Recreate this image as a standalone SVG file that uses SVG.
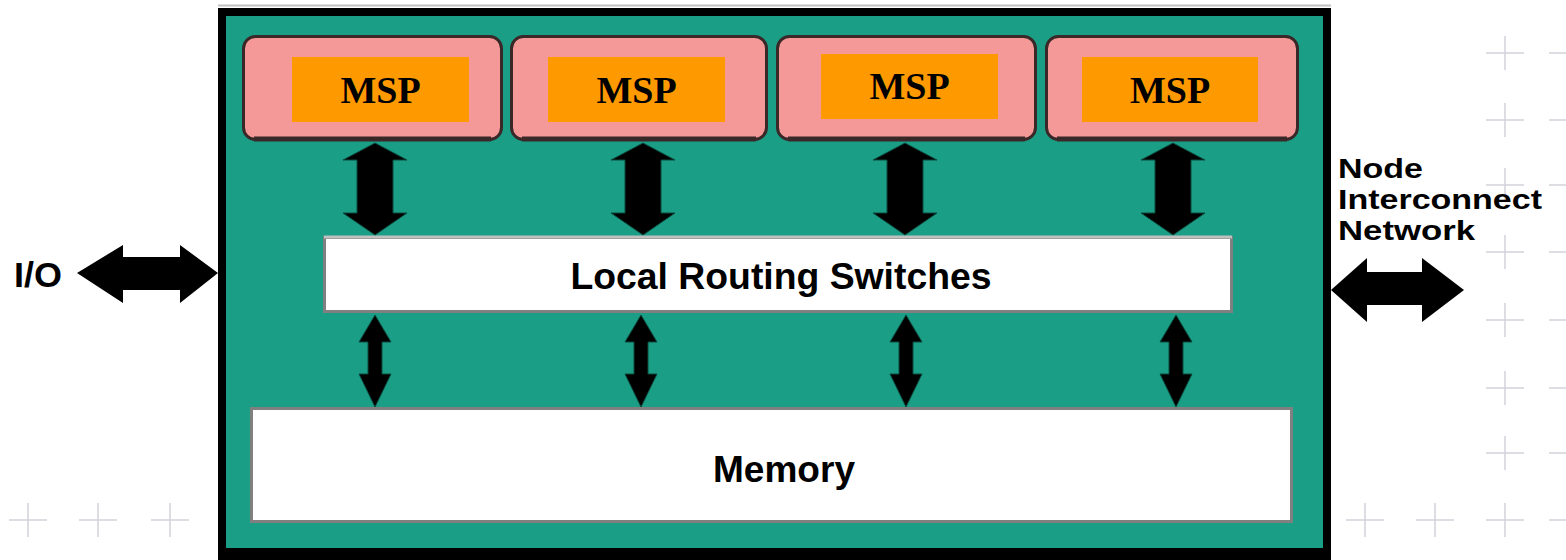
<svg xmlns="http://www.w3.org/2000/svg" width="1566" height="560" viewBox="0 0 1566 560">
<style>
.msp-outer{fill:#F59898;stroke:#3a2828;stroke-width:3}
.msp-inner{fill:#FF9900}
.msp-text{font-family:"Liberation Serif","Times New Roman",serif;font-weight:bold;font-size:38px;fill:#000;text-anchor:middle}
.sans{font-family:"Liberation Sans",Arial,sans-serif;font-weight:bold;fill:#000}
.box{fill:#fff;stroke:#808080;stroke-width:3}
.arrow{fill:#000;stroke:#0c4a3e;stroke-width:1}
.cross{stroke:#d2d2da;stroke-width:1.5;fill:none}
</style>
<defs>
<path id="plus" d="M-19,0 H19 M0,-17 V17"/>
</defs>
<rect width="1566" height="560" fill="#fff"/>
<g id="background-marks" class="cross">
<use href="#plus" x="1505" y="53"/><use href="#plus" x="1505" y="120"/><use href="#plus" x="1505" y="185"/><use href="#plus" x="1505" y="252"/><use href="#plus" x="1505" y="320"/><use href="#plus" x="1505" y="388"/><use href="#plus" x="1505" y="453"/><use href="#plus" x="1505" y="520"/>
<use href="#plus" x="1568" y="53"/><use href="#plus" x="1568" y="120"/><use href="#plus" x="1568" y="185"/><use href="#plus" x="1568" y="252"/><use href="#plus" x="1568" y="320"/><use href="#plus" x="1568" y="388"/><use href="#plus" x="1568" y="453"/><use href="#plus" x="1568" y="520"/>
<use href="#plus" x="1365" y="520"/><use href="#plus" x="1435" y="520"/>
<use href="#plus" x="28" y="520"/><use href="#plus" x="98" y="520"/><use href="#plus" x="170" y="520"/>
</g>
<g id="node-frame">
<line x1="218" y1="5.5" x2="1331" y2="5.5" stroke="#c0c0c0" stroke-width="2"/>
<rect x="218" y="8" width="1113" height="552" fill="#000"/>
<rect x="226" y="16" width="1097" height="532" fill="#1A9E86"/>
</g>
<g id="msp1">
<rect class="msp-outer" x="243.5" y="36.5" width="258" height="103" rx="12"/>
<line x1="254" y1="139" x2="491" y2="139" stroke="#3a2828" stroke-width="5"/>
<rect class="msp-inner" x="292" y="57" width="177" height="65"/>
<text class="msp-text" x="380.5" y="103">MSP</text>
</g>
<g id="msp2">
<rect class="msp-outer" x="511.5" y="36.5" width="255" height="103" rx="12"/>
<line x1="522" y1="139" x2="756" y2="139" stroke="#3a2828" stroke-width="5"/>
<rect class="msp-inner" x="548" y="57" width="177" height="65"/>
<text class="msp-text" x="636.5" y="103">MSP</text>
</g>
<g id="msp3">
<rect class="msp-outer" x="777.5" y="36.5" width="258" height="103" rx="12"/>
<line x1="788" y1="139" x2="1025" y2="139" stroke="#3a2828" stroke-width="5"/>
<rect class="msp-inner" x="821" y="54" width="177" height="65"/>
<text class="msp-text" x="909.5" y="99">MSP</text>
</g>
<g id="msp4">
<rect class="msp-outer" x="1046.5" y="36.5" width="251" height="103" rx="12"/>
<line x1="1057" y1="139" x2="1287" y2="139" stroke="#3a2828" stroke-width="5"/>
<rect class="msp-inner" x="1082" y="57" width="176" height="65"/>
<text class="msp-text" x="1170" y="103">MSP</text>
</g>
<g id="local-routing-switches">
<rect class="box" x="324.5" y="237.5" width="907" height="74"/>
<line x1="324" y1="237" x2="1232" y2="237" stroke="#c0c0c0" stroke-width="3"/>
<text class="sans" x="781" y="289" font-size="36" text-anchor="middle" textLength="421" lengthAdjust="spacingAndGlyphs">Local Routing Switches</text>
</g>
<g id="memory">
<rect class="box" x="251.5" y="408.5" width="1040" height="113"/>
<text class="sans" x="784" y="482" font-size="37" text-anchor="middle" textLength="142" lengthAdjust="spacingAndGlyphs">Memory</text>
</g>
<g id="io-label">
<text class="sans" x="14" y="287" font-size="35" textLength="48" lengthAdjust="spacingAndGlyphs">I/O</text>
</g>
<g id="network-label">
<text class="sans" font-size="28">
<tspan x="1338" y="178" textLength="85" lengthAdjust="spacingAndGlyphs">Node</tspan>
<tspan x="1338" y="209" textLength="204" lengthAdjust="spacingAndGlyphs">Interconnect</tspan>
<tspan x="1338" y="240" textLength="137" lengthAdjust="spacingAndGlyphs">Network</tspan>
</text>
</g>
<g id="connectors">
<polygon class="arrow" points="375,143 407,160 393,160 393,213 407,213 375,235 343,213 357,213 357,160 343,160"/>
<polygon class="arrow" points="643,143 675,160 661,160 661,213 675,213 643,235 611,213 625,213 625,160 611,160"/>
<polygon class="arrow" points="905,143 937,160 923,160 923,213 937,213 905,235 873,213 887,213 887,160 873,160"/>
<polygon class="arrow" points="1173,143 1205,160 1191,160 1191,213 1205,213 1173,235 1141,213 1155,213 1155,160 1141,160"/>
<polygon class="arrow" points="375,315 391,342 382,342 382,374 391,374 375,407 359,374 368,374 368,342 359,342"/>
<polygon class="arrow" points="641,315 657,342 648,342 648,374 657,374 641,407 625,374 634,374 634,342 625,342"/>
<polygon class="arrow" points="906,315 922,342 913,342 913,374 922,374 906,407 890,374 899,374 899,342 890,342"/>
<polygon class="arrow" points="1176,315 1192,342 1183,342 1183,374 1192,374 1176,407 1160,374 1169,374 1169,342 1160,342"/>
<polygon points="77,273 123,245 123,257 180,257 180,245 218,273 180,303 180,290 123,290 123,303" fill="#000"/>
<polygon points="1331,290 1367,258 1367,272 1422,272 1422,258 1464,290 1422,322 1422,305 1367,305 1367,322" fill="#000"/>
</g>
</svg>
